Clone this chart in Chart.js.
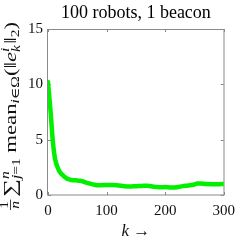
<!DOCTYPE html>
<html><head><meta charset="utf-8">
<script src="https://cdn.jsdelivr.net/npm/chart.js@4.4.0/dist/chart.umd.min.js"></script>
<style>html,body{margin:0;padding:0;background:#fff;}canvas{display:block;}</style>
</head><body>
<canvas id="c" width="242" height="242"></canvas>
<script>
// ---- data ----
const titleText = '100 robots, 1 beacon';
const xAxisLabel = 'k \u2192';
const xTickValues = [0, 100, 200, 300];
const yTickValues = [0, 5, 10, 15];
const steps = [0, 2, 4, 6, 8, 10, 12, 14, 16, 18, 20, 24, 28, 32, 36, 40, 45, 50, 55, 60, 65, 70, 75, 80, 85, 90, 95, 100,
  110, 120, 130, 140, 150, 160, 170, 180, 190, 200, 210, 220, 230, 240, 250, 255, 260, 270, 280, 290, 300];
const meanError = [10.2, 9.0, 7.8, 6.4, 5.0, 4.0, 3.3, 2.85, 2.55, 2.3, 2.1, 1.85, 1.65, 1.5, 1.42, 1.36, 1.33, 1.32, 1.28, 1.22,
  1.12, 1.05, 0.98, 0.92, 0.88, 0.88, 0.9, 0.9, 0.9, 0.86, 0.8, 0.77, 0.8, 0.82, 0.84, 0.74, 0.7, 0.72, 0.68, 0.7, 0.8, 0.86,
  0.95, 1.04, 1.04, 1.0, 0.98, 0.97, 1.0];

const FAM = '"Liberation Serif", "DejaVu Serif", serif';
const fnt = (size, italic) => (italic ? 'italic ' : '') + size + 'px ' + FAM;

const points = steps.map((k, i) => ({x: k, y: meanError[i]}));

// y-axis label as math pieces (rotated)
function segWidth(ctx, segs, size) {
  let w = 0;
  for (const s of segs) { ctx.font = fnt(size, s[1]); w += ctx.measureText(s[0]).width; }
  return w;
}
function drawSegs(ctx, segs, size, x, y) {
  for (const s of segs) { ctx.font = fnt(size, s[1]); ctx.fillText(s[0], x, y); x += ctx.measureText(s[0]).width; }
}
const yLabelParts = [
  {type: 'frac', num: [['1', false]], den: [['n', true]], k: 0.68},
  {type: 'gap', w: 2},
  {type: 'text', segs: [['\u2211', false]], k: 1.1},
  {type: 'stack', sup: [['n', true]], sub: [['j', true], ['=1', false]], k: 0.68},
  {type: 'gap', w: 3},
  {type: 'text', segs: [['mean', false]], k: 1},
  {type: 'sub', segs: [['i', true], ['\u2208\u03A9', false]], k: 0.68},
  {type: 'text', segs: [['(\u2016', false]], k: 1},
  {type: 'text', segs: [['e', true]], k: 1},
  {type: 'stack', sup: [['i', true]], sub: [['k', true]], k: 0.68},
  {type: 'text', segs: [['\u2016', false]], k: 1},
  {type: 'sub', segs: [['2', false]], k: 0.68},
  {type: 'text', segs: [[')', false]], k: 1}
];
function partWidth(ctx, p, S) {
  if (p.type === 'gap') return p.w;
  const s = S * p.k;
  if (p.type === 'frac') return Math.max(segWidth(ctx, p.num, s), segWidth(ctx, p.den, s)) + 2;
  if (p.type === 'stack') return Math.max(segWidth(ctx, p.sup, s), segWidth(ctx, p.sub, s)) + 1;
  return segWidth(ctx, p.segs, s);
}
function drawYLabel(ctx, cx, cy, S, targetLen) {
  ctx.save();
  ctx.translate(cx, cy);
  ctx.rotate(-Math.PI / 2);
  ctx.fillStyle = '#111';
  ctx.textBaseline = 'alphabetic';
  ctx.textAlign = 'left';
  let total = 0;
  for (const p of yLabelParts) total += partWidth(ctx, p, S);
  ctx.scale(targetLen / total, 1);
  let x = -total / 2;
  const base = S * 0.33;
  for (const p of yLabelParts) {
    const w = partWidth(ctx, p, S);
    const s = S * p.k;
    if (p.type === 'frac') {
      const wn = segWidth(ctx, p.num, s), wd = segWidth(ctx, p.den, s);
      drawSegs(ctx, p.num, s, x + (w - wn) / 2, base - S * 0.42);
      drawSegs(ctx, p.den, s, x + (w - wd) / 2, base + S * 0.22);
      ctx.fillRect(x, base - S * 0.33, w, 0.8);
    } else if (p.type === 'stack') {
      drawSegs(ctx, p.sup, s, x, base - S * 0.4);
      drawSegs(ctx, p.sub, s, x, base + S * 0.25);
    } else if (p.type === 'sub') {
      drawSegs(ctx, p.segs, s, x, base + S * 0.22);
    } else if (p.type === 'text') {
      drawSegs(ctx, p.segs, s, x, base);
    }
    x += w;
  }
  ctx.restore();
}

const framePlugin = {
  id: 'frame',
  beforeDatasetsDraw(chart) {
    const {ctx, chartArea: a, scales} = chart;
    ctx.save();
    ctx.strokeStyle = '#8a8a8a';
    ctx.lineWidth = 1;
    ctx.strokeRect(Math.round(a.left) - 0.5, Math.round(a.top) + 0.5, Math.round(a.right - a.left) + 0.5, Math.round(a.bottom - a.top) - 0.5);
    const tl = 3;
    ctx.beginPath();
    for (const v of xTickValues) {
      const px = Math.round(scales.x.getPixelForValue(v)) + 0.5;
      ctx.moveTo(px, a.bottom); ctx.lineTo(px, a.bottom - tl);
      ctx.moveTo(px, a.top); ctx.lineTo(px, a.top + tl);
    }
    for (const v of yTickValues) {
      const py = Math.round(scales.y.getPixelForValue(v)) + 0.5;
      ctx.moveTo(a.left, py); ctx.lineTo(a.left + tl, py);
      ctx.moveTo(a.right, py); ctx.lineTo(a.right - tl, py);
    }
    ctx.stroke();
    ctx.restore();
  },
  afterDraw(chart) {
    const a = chart.chartArea;
    drawYLabel(chart.ctx, 10, 116, 17, 188);
  }
};

new Chart(document.getElementById('c'), {
  type: 'line',
  data: {
    datasets: [{
      data: points,
      borderColor: '#00f000',
      borderWidth: 4.5,
      pointRadius: 0,
      fill: false,
      cubicInterpolationMode: 'monotone',
      borderCapStyle: 'round',
      borderJoinStyle: 'round'
    }]
  },
  plugins: [framePlugin],
  options: {
    responsive: false,
    animation: false,
    devicePixelRatio: 1,
    layout: {padding: {right: 14, top: 0, left: 0, bottom: 0}},
    plugins: {
      legend: {display: false},
      tooltip: {enabled: false},
      title: {
        display: true, text: titleText, fullSize: false, color: '#000',
        font: {family: FAM, size: 18, weight: 'normal', lineHeight: 1.2},
        padding: {top: 2, bottom: 5.4}
      }
    },
    scales: {
      x: {
        type: 'linear', min: 0, max: 300,
        afterBuildTicks: s => { s.ticks = xTickValues.map(v => ({value: v})); },
        afterFit: s => { s.height = 47; },
        grid: {display: false, drawTicks: false},
        border: {display: false},
        ticks: {color: '#111', padding: 7, font: {family: FAM, size: 15}, maxRotation: 0, autoSkip: false},
        title: {display: true, text: xAxisLabel, color: '#111', font: {family: FAM, size: 17, style: 'italic'}, padding: {top: 0, bottom: 0}}
      },
      y: {
        type: 'linear', min: 0, max: 15,
        afterBuildTicks: s => { s.ticks = yTickValues.map(v => ({value: v})); },
        afterFit: s => { s.width = 48; },
        grid: {display: false, drawTicks: false},
        border: {display: false},
        ticks: {color: '#111', padding: 5, font: {family: FAM, size: 15}, autoSkip: false}
      }
    }
  }
});
</script>
</body></html>
